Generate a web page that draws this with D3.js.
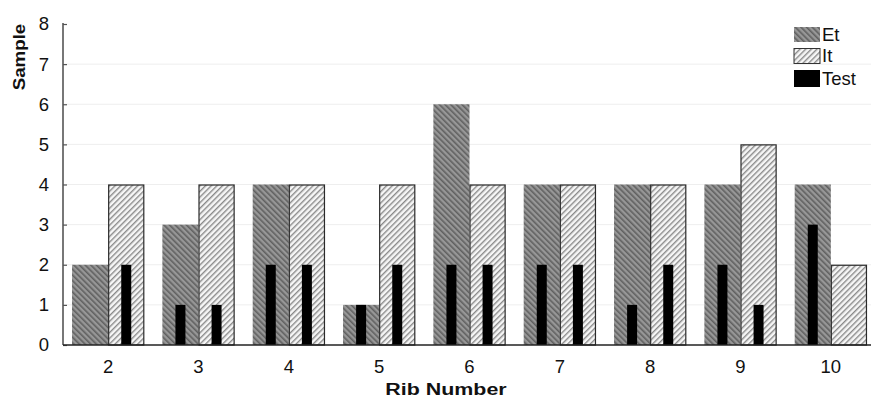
<!DOCTYPE html>
<html><head><meta charset="utf-8">
<script src="https://cdn.jsdelivr.net/npm/d3@7/dist/d3.min.js"></script>
<style>body{margin:0;background:#fff}svg{display:block}</style>
</head><body>
<svg id="c" width="871" height="400"></svg>
<script>
const categories = ["2","3","4","5","6","7","8","9","10"];
const seriesNames = ["Et","It"];
const etValues = [2,3,4,1,6,4,4,4,4];
const itValues = [4,4,4,4,4,4,4,5,2];
const testOnEt = [0,1,2,1,2,2,1,2,3];
const testOnIt = [2,1,2,2,2,2,2,1,0];
const yTicks = [0,1,2,3,4,5,6,7,8];

(function(){
const svg = d3.select("#c");
const mLeft = 63, mRight = 876, mTop = 24, mBottom = 345;
const font = "'Liberation Sans', Arial, sans-serif";

const defs = svg.append("defs");
const pEt = defs.append("pattern").attr("id","pEt").attr("patternUnits","userSpaceOnUse")
  .attr("width",4).attr("height",4).attr("patternTransform","rotate(-45)");
pEt.append("rect").attr("width",4).attr("height",4).attr("fill","#979797");
pEt.append("rect").attr("width",1.6).attr("height",4).attr("fill","#606060");
const pIt = defs.append("pattern").attr("id","pIt").attr("patternUnits","userSpaceOnUse")
  .attr("width",4).attr("height",4).attr("patternTransform","rotate(45)");
pIt.append("rect").attr("width",4).attr("height",4).attr("fill","#f6f6f6");
pIt.append("rect").attr("width",1.4).attr("height",4).attr("fill","#8a8a8a");

const x = d3.scaleBand().domain(categories).range([mLeft, mRight]).paddingInner(0.2).paddingOuter(0.1);
const xs = d3.scaleBand().domain(seriesNames).range([0, x.bandwidth()]);
const y = d3.scaleLinear().domain([0,8]).range([mBottom, mTop]);

svg.append("g").selectAll("line").data(yTicks.filter(d=>d>0 && d<8)).join("line")
  .attr("x1",mLeft).attr("x2",871).attr("y1",d=>y(d)).attr("y2",d=>y(d))
  .attr("stroke","#eeeeee").attr("stroke-width",1);

const rows = categories.map((c,i)=>({c, et:etValues[i], it:itValues[i], te:testOnEt[i], ti:testOnIt[i]}));

svg.append("g").selectAll("rect").data(rows).join("rect")
  .attr("x",d=>x(d.c)+xs("Et")).attr("width",xs.bandwidth())
  .attr("y",d=>y(d.et)).attr("height",d=>y(0)-y(d.et))
  .attr("fill","url(#pEt)");
svg.append("g").selectAll("rect").data(rows).join("rect")
  .attr("x",d=>x(d.c)+xs("It")+0.5).attr("width",xs.bandwidth()-1)
  .attr("y",d=>y(d.it)+0.5).attr("height",d=>y(0)-y(d.it)-0.5)
  .attr("fill","url(#pIt)").attr("stroke","#2a2a2a").attr("stroke-width",1.2);
const tw = 10;
svg.append("g").selectAll("rect").data(rows.filter(d=>d.te>0)).join("rect")
  .attr("x",d=>x(d.c)+xs("Et")+xs.bandwidth()/2-tw/2).attr("width",tw)
  .attr("y",d=>y(d.te)).attr("height",d=>y(0)-y(d.te)).attr("fill","#000");
svg.append("g").selectAll("rect").data(rows.filter(d=>d.ti>0)).join("rect")
  .attr("x",d=>x(d.c)+xs("It")+xs.bandwidth()/2-tw/2).attr("width",tw)
  .attr("y",d=>y(d.ti)).attr("height",d=>y(0)-y(d.ti)).attr("fill","#000");

const yAxis = svg.append("g").attr("transform",`translate(${mLeft},0)`)
  .call(d3.axisLeft(y).tickValues(yTicks).tickSizeInner(-4).tickSizeOuter(0).tickPadding(14).tickFormat(d3.format("d")));
yAxis.select(".domain").remove();
yAxis.selectAll(".tick line").attr("stroke","#555").attr("stroke-width",1.2);
yAxis.selectAll("text").attr("font-family",font).attr("font-size",18.5).attr("fill","#111");
svg.append("line").attr("x1",mLeft).attr("x2",mLeft).attr("y1",mTop-1).attr("y2",mBottom)
  .attr("stroke","#555").attr("stroke-width",1.6);

const xAxis = svg.append("g").attr("transform",`translate(0,${mBottom})`)
  .call(d3.axisBottom(x).tickSize(0).tickPadding(15));
xAxis.select(".domain").remove();
xAxis.selectAll("text").attr("font-family",font).attr("font-size",18.5).attr("fill","#111");
svg.append("line").attr("x1",mLeft).attr("x2",871).attr("y1",mBottom).attr("y2",mBottom)
  .attr("stroke","#222").attr("stroke-width",1.6);

svg.append("text").attr("transform","translate(25,57) rotate(-90) scale(1.1,1)")
  .attr("text-anchor","middle").attr("font-family",font).attr("font-weight","bold")
  .attr("font-size",17).attr("fill","#111").text("Sample");
svg.append("text").attr("transform","translate(446,395) scale(1.26,1)")
  .attr("text-anchor","middle").attr("font-family",font).attr("font-weight","bold")
  .attr("font-size",17).attr("fill","#111").text("Rib Number");

const legendItems = [{n:"Et",f:"url(#pEt)",s:"none"},{n:"It",f:"url(#pIt)",s:"#333"},{n:"Test",f:"#000",s:"none"}];
const lg = svg.append("g").selectAll("g").data(legendItems).join("g")
  .attr("transform",(d,i)=>`translate(794,${27+i*21.5})`);
lg.append("rect").attr("width",26).attr("height",(d,i)=>i===2?17:15).attr("fill",d=>d.f).attr("stroke",d=>d.s);
lg.append("text").attr("x",28).attr("y",(d,i)=>i===2?15:13.5).attr("font-family",font).attr("font-size",18.5)
  .attr("fill","#111").text(d=>d.n);
})();
</script>
</body></html>
